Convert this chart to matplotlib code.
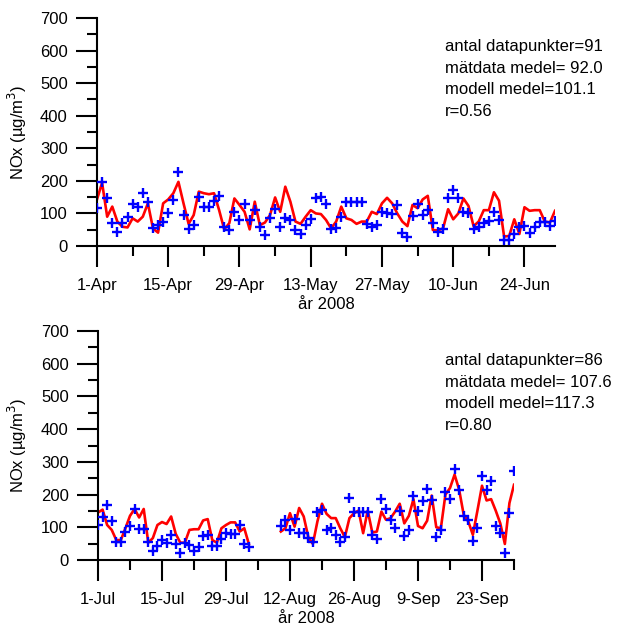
import numpy as np
import pandas as pd
import matplotlib
matplotlib.use("Agg")
import matplotlib.pyplot as plt
import matplotlib.dates as mdates
from matplotlib.ticker import FuncFormatter, MultipleLocator

plt.rcParams['font.family'] = ['Liberation Sans', 'DejaVu Sans']

# --- data: April-June 2008 ---
dates_q2 = pd.date_range("2008-04-01", "2008-06-30", freq="D")
matt_q2 = [116, 197, 148, 72, 44, 72, 88, 129, 121, 162, 134, 54, 64, 75, 100, 141,
           228, 95, 51, 64, 149, 119, 119, 138, 154, 59, 49, 104, 80, 129, 80, 110,
           57, 34, 85, 114, 57, 85, 80, 49, 36, 64, 82, 148, 151, 129, 51, 56, 90,
           134, 134, 134, 134, 68, 57, 64, 103, 100, 98, 126, 41, 27, 92, 129, 95,
           110, 70, 44, 51, 148, 172, 148, 105, 102, 51, 59, 70, 78, 105, 80, 18, 18,
           37, 57, 61, 41, 59, 75, 75, 61, 78]
modell_q2 = [143, 194, 90, 121, 75, 59, 57, 85, 75, 90, 131, 54, 41, 131, 143, 162,
             197, 131, 68, 95, 167, 162, 159, 162, 110, 51, 70, 146, 126, 105, 51, 136,
             64, 72, 95, 149, 105, 182, 136, 75, 68, 90, 110, 100, 98, 80, 54, 75, 121,
             85, 80, 68, 75, 75, 105, 98, 131, 148, 131, 100, 75, 61, 126, 116, 143,
             154, 49, 48, 54, 113, 82, 100, 146, 123, 61, 75, 110, 110, 165, 139, 29, 31,
             82, 37, 119, 108, 110, 110, 75, 72, 108]
text_q2 = ["antal datapunkter=91", "mätdata medel= 92.0", "modell medel=101.1", "r=0.56"]

# --- data: July-September 2008 (gap 4-9 Aug) ---
nan = np.nan
dates_q3 = pd.date_range("2008-07-01", "2008-09-30", freq="D")
matt_q3 = [107, 130, 169, 120, 56, 56, 87, 104, 156, 95, 95, 56, 29, 43, 61, 51, 77,
           49, 22, 51, 46, 29, 41, 74, 77, 43, 43, 64, 84, 81, 79, 107, 49, 41,
           nan, nan, nan, nan, nan, nan,
           104, 121, 92, 126, 84, 84, 67, 56, 148, 154, 92, 97, 77, 56, 70, 189, 148,
           148, 148, 148, 77, 64, 186, 157, 123, 97, 150, 74, 93, 197, 150, 179, 217,
           184, 70, 92, 207, 186, 279, 215, 135, 121, 59, 97, 258, 213, 243, 104, 84,
           22, 145, 271]
modell_q3 = [145, 154, 107, 92, 61, 61, 97, 135, 156, 130, 156, 53, 67, 107, 116, 110,
             133, 80, 53, 53, 92, 94, 94, 121, 125, 61, 53, 97, 107, 115, 115, 87, 97, 49,
             nan, nan, nan, nan, nan, nan,
             87, 97, 143, 102, 159, 133, 70, 49, 118, 172, 141, 128, 128, 97, 70, 128,
             143, 151, 82, 151, 84, 87, 148, 123, 128, 148, 172, 112, 135, 186, 104, 97,
             120, 197, 100, 97, 200, 220, 261, 215, 138, 118, 77, 151, 227, 182, 186,
             151, 112, 49, 174, 230]
text_q3 = ["antal datapunkter=86", "mätdata medel= 107.6", "modell medel=117.3", "r=0.80"]

W, H = 620, 626
fig = plt.figure(figsize=(W / 100, H / 100), dpi=100)
# axes boxes in pixels: left, top(y of 700), right, bottom(y of 0)
ax1 = fig.add_axes([97 / W, 1 - 246 / H, 458 / W, 228 / H])
ax2 = fig.add_axes([98 / W, 1 - 560 / H, 416 / W, 229 / H])


def datefmt(x, pos):
    d = mdates.num2date(x)
    return f"{d.day}-{d.strftime('%b')}"


def setup(ax, dates, matt, modell, lines, end_tick, text_top, ax_left, ax_w):
    ax.plot(dates, modell, color="#ff0000", lw=1.9, zorder=2)
    ax.plot(dates, matt, ls="none", marker="+", color="#0000ff", ms=7, mew=1.7, zorder=3)
    ax.set_ylim(0, 700)
    ax.set_xlim(dates[0], dates[-1])
    ax.yaxis.set_major_locator(MultipleLocator(100))
    ax.yaxis.set_minor_locator(MultipleLocator(50))
    ax.set_xticks(pd.date_range(dates[0], periods=7, freq="14D"))
    if end_tick:
        minors = pd.date_range(dates[0] + pd.Timedelta(days=7), periods=13, freq="7D")
    else:
        minors = pd.date_range(dates[0] + pd.Timedelta(days=7), dates[-1], freq="14D")
    ax.set_xticks(minors, minor=True)
    ax.xaxis.set_major_formatter(FuncFormatter(datefmt))
    for s in ["top", "right"]:
        ax.spines[s].set_visible(False)
    for s in ["left", "bottom"]:
        ax.spines[s].set_linewidth(1.5)
    ax.tick_params(which="major", length=15, width=1.5, labelsize=12, direction="out")
    ax.tick_params(which="minor", length=7.5, width=1.5, direction="out")
    ax.tick_params(axis="y", which="major", pad=6)
    ax.tick_params(axis="x", which="major", pad=8)
    ax.set_ylabel("NOx (µg/m$^3$)", fontsize=12)
    ax.yaxis.set_label_coords((29 - ax_left) / ax_w, 0.5)
    ax.set_xlabel("år 2008", fontsize=12, labelpad=3)
    ax.patch.set_visible(False)
    for i, t in enumerate(lines):
        fig.text(445 / W, 1 - (text_top + i * 21.5) / H, t, fontsize=12,
                 va="center", ha="left")


setup(ax1, dates_q2, matt_q2, modell_q2, text_q2, False, 47, 97, 458)
setup(ax2, dates_q3, matt_q3, modell_q3, text_q3, True, 361, 98, 416)

fig.savefig("out.png", dpi=100)
